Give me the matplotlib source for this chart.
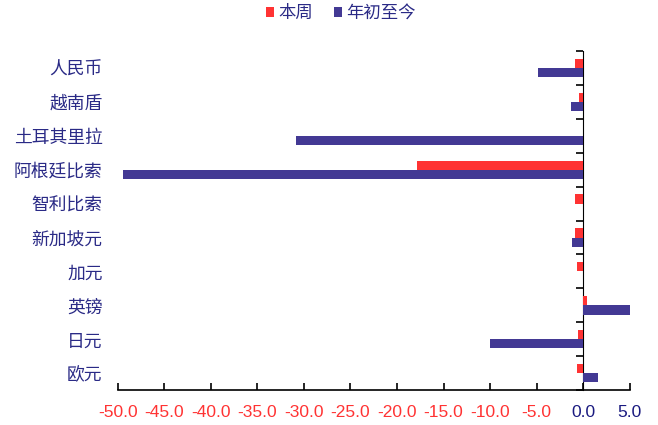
import numpy as np
import matplotlib
matplotlib.use("Agg")
from matplotlib import pyplot as plt

plt.rcParams['font.family'] = ['Noto Sans CJK SC', 'DejaVu Sans']

#%% data
names = ['人民币', '越南盾', '土耳其里拉', '阿根廷比索', '智利比索',
         '新加坡元', '加元', '英镑', '日元', '欧元']
week = [-0.9, -0.5, 0.0, -17.9, -0.85, -0.85, -0.7, 0.4, -0.55, -0.7]
ytd = [-4.9, -1.3, -30.8, -49.4, 0.0, -1.2, 0.0, 5.1, -10.0, 1.6]
xticks = np.arange(-50, 5.1, 5)

red = '#FF3333'
navy = '#433994'
txt = '#2A2A86'

#%% plot
fig = plt.figure(figsize=(6.58, 4.25), dpi=100)
ax = fig.add_axes([0.179, 0.082, 0.778, 0.798])

yy = np.arange(len(names))
h = 0.27
ax.barh(yy - h / 2, week, height=h, color=red, label='本周')
ax.barh(yy + h / 2, ytd, height=h, color=navy, label='年初至今')

ax.set_xlim(-50, 5)
ax.set_ylim(len(names) - 0.5, -0.5)

ax.set_yticks(yy)
ax.set_yticklabels(names, fontsize=12.8, color=txt)
ax.tick_params(axis='y', length=0, pad=11)

ax.set_xticks(xticks)
ax.set_xticklabels(['%.1f' % v for v in xticks], fontsize=12.5,
                   family=['Liberation Sans', 'DejaVu Sans'])
ax.tick_params(axis='x', direction='in', length=5, width=1.2, pad=11)
for lab, v in zip(ax.get_xticklabels(), xticks):
    lab.set_color(red if v < 0 else '#1A1A80')

for s in ['top', 'right', 'left']:
    ax.spines[s].set_visible(False)
ax.spines['bottom'].set_linewidth(1.2)

# axis line at zero with category separators
sec = ax.secondary_yaxis(50 / 55)
sec.set_yticks(np.arange(-0.5, len(names), 1))
sec.set_yticklabels([])
sec.tick_params(direction='in', length=5, width=1.2)
sec.spines['left'].set_linewidth(1.2)

ax.legend(loc='upper center', bbox_to_anchor=(0.435, 1.185), ncol=2,
          frameon=False, fontsize=12.5, handlelength=0.5, handleheight=0.5,
          handletextpad=0.2, columnspacing=1.2, labelcolor=txt)

fig.savefig('out.png')
